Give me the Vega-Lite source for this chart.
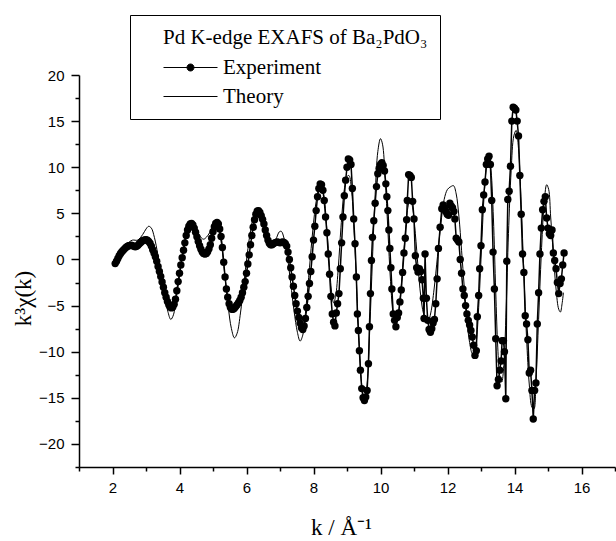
{
  "$schema": "https://vega.github.io/schema/vega-lite/v6.json",
  "width": 536,
  "height": 392,
  "autosize": "none",
  "padding": {"left": 79, "top": 75, "right": 1, "bottom": 74},
  "background": "white",
  "datasets": {
    "exp": [
      {"k":2.08,"v":-0.45},{"k":2.12,"v":-0.2},{"k":2.16,"v":0.1},{"k":2.20,"v":0.4},{"k":2.24,"v":0.65},{"k":2.28,"v":0.85},{"k":2.32,"v":1.0},{"k":2.36,"v":1.15},{"k":2.40,"v":1.3},{"k":2.44,"v":1.4},{"k":2.48,"v":1.48},{"k":2.52,"v":1.52},{"k":2.56,"v":1.55},{"k":2.60,"v":1.5},{"k":2.64,"v":1.42},{"k":2.68,"v":1.38},{"k":2.72,"v":1.42},{"k":2.76,"v":1.55},{"k":2.80,"v":1.7},{"k":2.84,"v":1.85},{"k":2.88,"v":1.98},{"k":2.92,"v":2.05},{"k":2.96,"v":2.12},{"k":3.00,"v":2.15},{"k":3.04,"v":2.1},{"k":3.08,"v":1.95},{"k":3.12,"v":1.75},{"k":3.16,"v":1.45},{"k":3.20,"v":1.05},{"k":3.24,"v":0.7},{"k":3.28,"v":0.3},{"k":3.32,"v":-0.2},{"k":3.36,"v":-0.75},{"k":3.40,"v":-1.3},{"k":3.44,"v":-1.85},{"k":3.48,"v":-2.45},{"k":3.52,"v":-3.0},{"k":3.56,"v":-3.6},{"k":3.60,"v":-4.1},{"k":3.64,"v":-4.55},{"k":3.68,"v":-4.9},{"k":3.72,"v":-5.15},{"k":3.76,"v":-5.25},{"k":3.80,"v":-5.15},{"k":3.84,"v":-4.85},{"k":3.88,"v":-4.3},{"k":3.92,"v":-3.4},{"k":3.96,"v":-2.4},{"k":4.00,"v":-1.5},{"k":4.04,"v":-0.6},{"k":4.08,"v":0.2},{"k":4.12,"v":1.0},{"k":4.16,"v":1.8},{"k":4.20,"v":2.6},{"k":4.24,"v":3.2},{"k":4.28,"v":3.6},{"k":4.32,"v":3.85},{"k":4.36,"v":3.9},{"k":4.40,"v":3.75},{"k":4.44,"v":3.4},{"k":4.48,"v":2.95},{"k":4.52,"v":2.45},{"k":4.56,"v":1.95},{"k":4.60,"v":1.5},{"k":4.64,"v":1.1},{"k":4.68,"v":0.8},{"k":4.72,"v":0.65},{"k":4.76,"v":0.6},{"k":4.80,"v":0.65},{"k":4.84,"v":0.85},{"k":4.88,"v":1.15},{"k":4.92,"v":1.6},{"k":4.96,"v":2.3},{"k":5.00,"v":3.0},{"k":5.04,"v":3.55},{"k":5.08,"v":3.9},{"k":5.12,"v":4.0},{"k":5.16,"v":3.85},{"k":5.20,"v":3.3},{"k":5.24,"v":2.5},{"k":5.28,"v":1.3},{"k":5.32,"v":-0.3},{"k":5.36,"v":-1.9},{"k":5.40,"v":-3.2},{"k":5.44,"v":-4.1},{"k":5.48,"v":-4.8},{"k":5.52,"v":-5.2},{"k":5.56,"v":-5.4},{"k":5.60,"v":-5.4},{"k":5.64,"v":-5.3},{"k":5.68,"v":-5.1},{"k":5.72,"v":-4.9},{"k":5.76,"v":-4.7},{"k":5.80,"v":-4.45},{"k":5.84,"v":-4.1},{"k":5.88,"v":-3.6},{"k":5.92,"v":-3.0},{"k":5.96,"v":-2.4},{"k":6.00,"v":-1.5},{"k":6.04,"v":-0.5},{"k":6.08,"v":0.5},{"k":6.12,"v":1.6},{"k":6.16,"v":2.6},{"k":6.20,"v":3.5},{"k":6.24,"v":4.3},{"k":6.28,"v":4.9},{"k":6.32,"v":5.25},{"k":6.36,"v":5.3},{"k":6.40,"v":5.1},{"k":6.44,"v":4.75},{"k":6.48,"v":4.35},{"k":6.52,"v":3.85},{"k":6.56,"v":3.2},{"k":6.60,"v":2.6},{"k":6.64,"v":2.1},{"k":6.68,"v":1.75},{"k":6.72,"v":1.6},{"k":6.76,"v":1.6},{"k":6.80,"v":1.7},{"k":6.84,"v":1.8},{"k":6.88,"v":1.85},{"k":6.92,"v":1.9},{"k":6.96,"v":1.85},{"k":7.00,"v":1.8},{"k":7.04,"v":1.85},{"k":7.08,"v":1.9},{"k":7.12,"v":1.85},{"k":7.16,"v":1.7},{"k":7.20,"v":1.45},{"k":7.24,"v":0.8},{"k":7.28,"v":0.0},{"k":7.32,"v":-0.9},{"k":7.36,"v":-1.9},{"k":7.40,"v":-2.9},{"k":7.44,"v":-3.9},{"k":7.48,"v":-4.8},{"k":7.52,"v":-5.6},{"k":7.56,"v":-6.3},{"k":7.60,"v":-6.9},{"k":7.64,"v":-7.4},{"k":7.68,"v":-7.6},{"k":7.72,"v":-7.2},{"k":7.76,"v":-6.4},{"k":7.80,"v":-5.2},{"k":7.84,"v":-4.0},{"k":7.88,"v":-2.6},{"k":7.92,"v":-1.3},{"k":7.96,"v":0.3},{"k":8.00,"v":2.1},
      {"k":8.04,"v":3.6},{"k":8.08,"v":5.3},{"k":8.12,"v":6.8},{"k":8.16,"v":7.7},{"k":8.20,"v":8.2},{"k":8.24,"v":8.1},{"k":8.28,"v":7.5},{"k":8.32,"v":6.4},{"k":8.36,"v":4.6},{"k":8.40,"v":2.9},{"k":8.44,"v":0.6},{"k":8.48,"v":-1.6},{"k":8.52,"v":-4.0},{"k":8.56,"v":-5.9},{"k":8.60,"v":-6.8},{"k":8.64,"v":-7.2},{"k":8.68,"v":-5.8},{"k":8.72,"v":-4.8},{"k":8.76,"v":-3.7},{"k":8.80,"v":-1.0},{"k":8.84,"v":1.8},{"k":8.88,"v":4.6},{"k":8.92,"v":6.9},{"k":8.96,"v":8.6},{"k":9.00,"v":10.0},{"k":9.04,"v":10.9},{"k":9.08,"v":10.8},{"k":9.12,"v":10.3},{"k":9.16,"v":7.7},{"k":9.20,"v":4.4},{"k":9.24,"v":1.7},{"k":9.28,"v":-1.9},{"k":9.31,"v":-5.9},{"k":9.34,"v":-7.7},{"k":9.37,"v":-9.9},{"k":9.40,"v":-12.0},{"k":9.44,"v":-14.0},{"k":9.48,"v":-15.0},{"k":9.52,"v":-15.3},{"k":9.56,"v":-14.9},{"k":9.60,"v":-14.2},{"k":9.64,"v":-11.3},{"k":9.67,"v":-7.3},{"k":9.70,"v":-3.7},{"k":9.73,"v":-0.1},{"k":9.76,"v":2.4},{"k":9.80,"v":4.2},{"k":9.84,"v":6.1},{"k":9.88,"v":7.9},{"k":9.92,"v":9.3},{"k":9.96,"v":9.9},{"k":10.00,"v":10.3},{"k":10.04,"v":10.5},{"k":10.08,"v":10.2},{"k":10.12,"v":9.6},{"k":10.16,"v":8.2},{"k":10.19,"v":6.8},{"k":10.22,"v":5.3},{"k":10.25,"v":3.2},{"k":10.28,"v":1.2},{"k":10.31,"v":-0.9},{"k":10.34,"v":-3.2},{"k":10.38,"v":-5.9},{"k":10.42,"v":-6.6},{"k":10.46,"v":-7.3},{"k":10.50,"v":-6.3},{"k":10.54,"v":-5.8},{"k":10.58,"v":-4.6},{"k":10.62,"v":-3.3},{"k":10.66,"v":-1.4},{"k":10.70,"v":0.7},{"k":10.74,"v":2.3},{"k":10.78,"v":4.3},{"k":10.80,"v":6.4},{"k":10.84,"v":9.2},{"k":10.88,"v":9.1},{"k":10.92,"v":8.9},{"k":10.96,"v":6.3},{"k":11.00,"v":4.4},{"k":11.04,"v":0.4},{"k":11.08,"v":-0.9},{"k":11.12,"v":-1.35},{"k":11.16,"v":-1.0},{"k":11.20,"v":-1.3},{"k":11.24,"v":-2.2},{"k":11.28,"v":-4.2},{"k":11.30,"v":-6.4},{"k":11.33,"v":0.6},{"k":11.37,"v":-4.2},{"k":11.41,"v":-6.6},{"k":11.45,"v":-7.6},{"k":11.49,"v":-7.9},{"k":11.53,"v":-7.5},{"k":11.57,"v":-6.9},{"k":11.61,"v":-6.5},{"k":11.65,"v":-4.8},{"k":11.69,"v":-2.1},{"k":11.73,"v":1.2},{"k":11.78,"v":3.5},{"k":11.83,"v":5.5},{"k":11.87,"v":5.9},{"k":11.91,"v":5.6},{"k":11.95,"v":5.2},{"k":11.99,"v":4.9},{"k":12.03,"v":4.8},{"k":12.07,"v":6.1},{"k":12.11,"v":5.8},{"k":12.15,"v":5.6},{"k":12.19,"v":5.2},{"k":12.22,"v":4.4},{"k":12.26,"v":2.3},{"k":12.30,"v":2.1},{"k":12.34,"v":1.9},{"k":12.38,"v":0.0},{"k":12.42,"v":-1.5},{"k":12.46,"v":-3.2},{"k":12.50,"v":-3.9},{"k":12.54,"v":-5.0},{"k":12.58,"v":-5.9},{"k":12.62,"v":-6.6},{"k":12.66,"v":-7.1},{"k":12.70,"v":-7.7},{"k":12.74,"v":-8.4},{"k":12.78,"v":-9.3},{"k":12.82,"v":-10.4},{"k":12.86,"v":-9.9},{"k":12.89,"v":-6.2},{"k":12.93,"v":-3.9},{"k":12.96,"v":-1.0},{"k":13.00,"v":1.5},{"k":13.04,"v":5.4},{"k":13.08,"v":7.0},{"k":13.12,"v":8.4},{"k":13.16,"v":10.3},{"k":13.20,"v":10.9},{"k":13.24,"v":11.2},{"k":13.28,"v":10.3},{"k":13.32,"v":6.4},{"k":13.36,"v":0.8},{"k":13.40,"v":-3.2},{"k":13.44,"v":-8.6},{"k":13.48,"v":-13.7},{"k":13.52,"v":-13.0},{"k":13.56,"v":-12.0},{"k":13.60,"v":-11.0},{"k":13.63,"v":-8.8},{"k":13.67,"v":-8.8},{"k":13.70,"v":-10.0},{"k":13.74,"v":-15.1},{"k":13.77,"v":-0.2},{"k":13.80,"v":6.5},{"k":13.84,"v":7.4},{"k":13.88,"v":10.1},{"k":13.92,"v":15.0},{"k":13.96,"v":16.5},{"k":14.00,"v":16.4},{"k":14.04,"v":16.2},{"k":14.08,"v":15.0},{"k":14.12,"v":13.4},{"k":14.16,"v":9.1},{"k":14.20,"v":4.9},{"k":14.24,"v":0.6},{"k":14.28,"v":-1.4},{"k":14.32,"v":-6.1},{"k":14.36,"v":-7.0},{"k":14.40,"v":-8.7},{"k":14.44,"v":-12.3},{"k":14.48,"v":-12.0},{"k":14.52,"v":-14.2},{"k":14.56,"v":-17.3},{"k":14.60,"v":-14.2},{"k":14.64,"v":-13.4},{"k":14.68,"v":-7.0},{"k":14.72,"v":-3.6},{"k":14.76,"v":0.6},{"k":14.80,"v":3.4},{"k":14.84,"v":5.4},{"k":14.88,"v":6.3},{"k":14.92,"v":6.8},{"k":14.96,"v":4.5},{"k":15.00,"v":3.4},{"k":15.04,"v":2.8},{"k":15.08,"v":2.6},{"k":15.12,"v":3.2},{"k":15.16,"v":0.7},{"k":15.20,"v":-0.1},{"k":15.24,"v":-1.0},{"k":15.28,"v":-2.5},{"k":15.32,"v":-3.7},{"k":15.36,"v":-2.6},{"k":15.40,"v":-2.1},{"k":15.44,"v":-0.6},{"k":15.48,"v":0.7}
    ],
    "theo": [
      {"k":2.08,"v":-0.45},{"k":2.2,"v":0.4},{"k":2.35,"v":1.2},{"k":2.5,"v":1.9},{"k":2.6,"v":2.1},{"k":2.75,"v":2.1},{"k":2.9,"v":2.7},{"k":3.0,"v":3.3},{"k":3.08,"v":3.6},{"k":3.16,"v":3.4},{"k":3.25,"v":2.4},{"k":3.35,"v":0.6},{"k":3.45,"v":-1.6},{"k":3.55,"v":-3.7},{"k":3.65,"v":-5.6},{"k":3.74,"v":-6.5},{"k":3.82,"v":-6.0},{"k":3.9,"v":-4.3},{"k":4.0,"v":-1.8},{"k":4.1,"v":0.8},{"k":4.2,"v":2.8},{"k":4.3,"v":3.8},{"k":4.37,"v":3.95},{"k":4.45,"v":3.6},{"k":4.55,"v":2.9},{"k":4.65,"v":2.35},{"k":4.72,"v":2.2},{"k":4.8,"v":2.4},{"k":4.9,"v":2.9},{"k":5.0,"v":3.6},{"k":5.08,"v":3.95},{"k":5.15,"v":3.6},{"k":5.25,"v":1.7},{"k":5.35,"v":-1.6},{"k":5.45,"v":-5.0},{"k":5.55,"v":-7.5},{"k":5.64,"v":-8.5},{"k":5.72,"v":-8.0},{"k":5.82,"v":-5.8},{"k":5.92,"v":-2.7},{"k":6.02,"v":0.5},{"k":6.12,"v":3.1},{"k":6.22,"v":4.7},{"k":6.32,"v":5.3},{"k":6.4,"v":5.0},{"k":6.5,"v":3.9},{"k":6.6,"v":2.5},{"k":6.7,"v":1.7},{"k":6.78,"v":1.6},{"k":6.88,"v":2.2},{"k":6.98,"v":3.0},{"k":7.04,"v":3.05},{"k":7.12,"v":2.3},{"k":7.22,"v":0.3},{"k":7.32,"v":-2.6},{"k":7.42,"v":-5.6},{"k":7.52,"v":-7.9},{"k":7.6,"v":-8.85},{"k":7.68,"v":-8.2},{"k":7.78,"v":-5.0},{"k":7.88,"v":-0.9},{"k":7.98,"v":3.2},{"k":8.08,"v":6.3},{"k":8.18,"v":7.8},{"k":8.24,"v":7.9},{"k":8.32,"v":6.6},{"k":8.4,"v":3.3},{"k":8.48,"v":-0.9},{"k":8.55,"v":-3.8},{"k":8.6,"v":-4.7},{"k":8.66,"v":-4.0},{"k":8.74,"v":-0.9},{"k":8.82,"v":3.5},{"k":8.92,"v":7.6},{"k":9.0,"v":9.0},{"k":9.06,"v":9.1},{"k":9.14,"v":7.3},{"k":9.22,"v":2.5},{"k":9.3,"v":-4.0},{"k":9.38,"v":-10.2},{"k":9.46,"v":-14.2},{"k":9.53,"v":-15.2},{"k":9.6,"v":-13.6},{"k":9.68,"v":-7.5},{"k":9.76,"v":0.0},{"k":9.84,"v":7.0},{"k":9.92,"v":11.7},{"k":10.0,"v":13.1},{"k":10.06,"v":12.5},{"k":10.14,"v":8.8},{"k":10.22,"v":3.2},{"k":10.3,"v":-2.4},{"k":10.38,"v":-6.0},{"k":10.45,"v":-7.1},{"k":10.52,"v":-6.2},{"k":10.6,"v":-3.6},{"k":10.68,"v":0.1},{"k":10.76,"v":3.8},{"k":10.84,"v":6.0},{"k":10.9,"v":6.4},{"k":10.96,"v":5.6},{"k":11.04,"v":2.8},{"k":11.12,"v":-0.8},{"k":11.2,"v":-3.9},{"k":11.28,"v":-5.8},{"k":11.36,"v":-6.5},{"k":11.43,"v":-6.6},{"k":11.5,"v":-5.8},{"k":11.6,"v":-3.2},{"k":11.7,"v":0.3},{"k":11.8,"v":3.8},{"k":11.9,"v":6.5},{"k":12.0,"v":7.6},{"k":12.1,"v":7.9},{"k":12.18,"v":8.0},{"k":12.26,"v":7.1},{"k":12.34,"v":4.7},{"k":12.42,"v":1.0},{"k":12.5,"v":-3.0},{"k":12.58,"v":-6.6},{"k":12.66,"v":-9.0},{"k":12.74,"v":-10.2},{"k":12.8,"v":-10.3},{"k":12.86,"v":-9.0},{"k":12.94,"v":-4.6},{"k":13.02,"v":1.6},{"k":13.1,"v":7.3},{"k":13.18,"v":10.4},{"k":13.24,"v":11.0},{"k":13.3,"v":9.6},{"k":13.37,"v":4.5},{"k":13.44,"v":-3.5},{"k":13.5,"v":-9.5},{"k":13.56,"v":-12.6},{"k":13.62,"v":-13.3},{"k":13.68,"v":-11.5},{"k":13.75,"v":-5.5},{"k":13.82,"v":2.8},{"k":13.9,"v":9.6},{"k":13.98,"v":13.4},{"k":14.05,"v":14.0},{"k":14.12,"v":12.0},{"k":14.2,"v":6.0},{"k":14.28,"v":-1.5},{"k":14.36,"v":-8.5},{"k":14.44,"v":-13.5},{"k":14.52,"v":-16.0},{"k":14.58,"v":-16.2},{"k":14.64,"v":-13.2},{"k":14.72,"v":-6.5},{"k":14.8,"v":0.6},{"k":14.88,"v":5.8},{"k":14.96,"v":8.1},{"k":15.02,"v":7.6},{"k":15.08,"v":4.6},{"k":15.16,"v":0.6},{"k":15.24,"v":-3.2},{"k":15.32,"v":-5.4},{"k":15.37,"v":-5.7},{"k":15.42,"v":-4.8},{"k":15.46,"v":-3.6}
    ]
  },
  "layer": [
    {
      "data": {"name": "theo"},
      "mark": {"type": "line", "interpolate": "catmull-rom", "strokeWidth": 1, "color": "black"},
      "encoding": {
        "x": {"field": "k", "type": "quantitative", "scale": {"domain": [1, 17], "nice": false, "zero": false},
          "axis": {"orient": "bottom", "values": [2,4,6,8,10,12,14,16], "tickSize": 7, "labelPadding": 6, "title": "k / Å⁻¹", "titleFont": "Liberation Serif", "titleFontSize": 23, "titleFontWeight": "normal", "titleBaseline": "alphabetic", "titleX": 262, "titleY": 67}},
        "y": {"field": "v", "type": "quantitative", "scale": {"domain": [-22.5, 20], "nice": false, "zero": false},
          "axis": {"orient": "left", "values": [-20,-15,-10,-5,0,5,10,15,20], "tickSize": 8, "labelPadding": 7, "title": "k³χ(k)", "titleFont": "Liberation Serif", "titleFontSize": 23, "titleFontWeight": "normal", "titleAngle": 270, "titleBaseline": "alphabetic", "titleAlign": "center", "titleX": -49, "titleY": 223}},
        "color": {"datum": "Experiment", "type": "nominal",
          "scale": {"domain": ["Experiment", "Theory"], "range": ["black", "black"]},
          "legend": {
            "title": "Pd K-edge EXAFS of Ba₂PdO₃",
            "orient": "none", "legendX": 51, "legendY": -60,
            "encode": {
              "symbols": {"update": {
                "shape": {"signal": "datum.value === 'Experiment' ? 'M-5.4,0H5.4M-0.7,0A0.7,0.7,0,1,0,0.7,0A0.7,0.7,0,1,0,-0.7,0Z' : 'M-5.4,0H5.4'"},
                "fill": {"value": "black"}, "stroke": {"value": "black"}, "strokeWidth": {"value": 1}, "opacity": {"value": 1}, "size": {"value": 100}
              }},
              "title": {"update": {"dx": {"value": 21}}}
            }
          }}
      }
    },
    {
      "data": {"name": "exp"},
      "mark": {"type": "line", "strokeWidth": 1.5, "color": "black", "point": {"filled": true, "size": 55, "color": "black", "opacity": 1}},
      "encoding": {
        "x": {"field": "k", "type": "quantitative", "axis": {"orient": "bottom", "values": [1,3,5,7,9,11,13,15,17], "tickSize": 4, "labels": false, "domain": false, "title": null}},
        "y": {"field": "v", "type": "quantitative", "axis": {"orient": "left", "values": [-22.5,-17.5,-12.5,-7.5,-2.5,2.5,7.5,12.5,17.5], "tickSize": 4, "labels": false, "domain": false, "title": null}},
        "color": {"datum": "Theory", "type": "nominal"}
      }
    }
  ],
  "resolve": {"axis": {"x": "independent", "y": "independent"}},
  "config": {
    "view": {"stroke": null},
    "axis": {"grid": false, "domainColor": "black", "domainWidth": 1.5, "tickColor": "black", "tickWidth": 1.5, "labelFont": "Liberation Sans", "labelFontSize": 15, "labelColor": "black", "titleColor": "black", "labelFlush": false, "labelOverlap": false},
    "legend": {"titleFont": "Liberation Serif", "titleFontSize": 21, "titleFontWeight": "normal", "titleColor": "black", "titlePadding": 9, "titleLimit": 600,
      "labelFont": "Liberation Serif", "labelFontSize": 21, "labelColor": "black", "labelOffset": 22, "labelLimit": 400,
      "strokeColor": "black", "padding": 12, "fillColor": "white", "symbolOffset": 38, "rowPadding": 7, "symbolSize": 100, "symbolStrokeWidth": 1, "symbolStrokeColor": "black", "symbolFillColor": "black", "symbolOpacity": 1}
  }
}
